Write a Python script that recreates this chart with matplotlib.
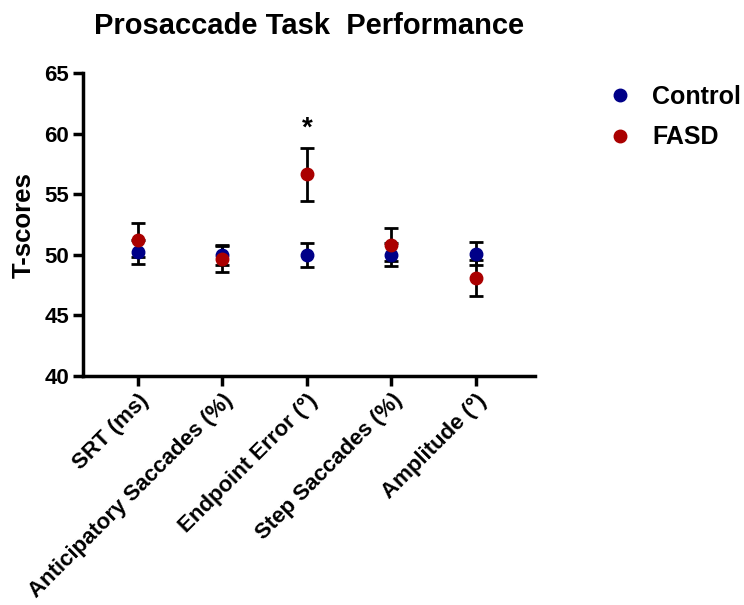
import numpy as np
import matplotlib.pyplot as plt

plt.rcParams['font.family'] = ['Liberation Sans', 'DejaVu Sans']

categories = ['SRT (ms)', 'Anticipatory Saccades (%)', 'Endpoint Error (°)',
              'Step Saccades (%)', 'Amplitude (°)']
control_mean = [50.25, 50.0, 50.0, 50.0, 50.1]
control_err = [1.0, 0.85, 1.0, 0.95, 0.95]
fasd_mean = [51.2, 49.65, 56.65, 50.85, 48.1]
fasd_err = [1.4, 1.05, 2.2, 1.35, 1.5]

blue = '#000088'
red = '#aa0000'

fig = plt.figure(figsize=(7.44, 6.05), dpi=100)
ax = fig.add_axes([0.1116, 0.3785, 0.6074, 0.5005])

x = np.arange(len(categories))
ax.errorbar(x, control_mean, yerr=control_err, fmt='none', ecolor='black',
            elinewidth=2, capsize=5, capthick=2, zorder=2)
ax.errorbar(x, fasd_mean, yerr=fasd_err, fmt='none', ecolor='black',
            elinewidth=2, capsize=5, capthick=2, zorder=2)
ax.plot(x, control_mean, 'o', color=blue, markersize=9, zorder=3, label='Control')
ax.plot(x, fasd_mean, 'o', color=red, markersize=9, zorder=4, label='FASD')

ax.text(2, 60.4, '*', ha='center', va='center', fontsize=20, fontweight='bold')

ax.set_ylim(40, 65)
ax.set_yticks([40, 45, 50, 55, 60, 65])
ax.set_xlim(-0.65, 4.7)
ax.set_xticks(x)
ax.set_xticklabels(categories, rotation=45, ha='right', rotation_mode='anchor')
for lab in ax.get_xticklabels() + ax.get_yticklabels():
    lab.set_fontweight('bold')
    lab.set_fontsize(16)

ax.spines['top'].set_visible(False)
ax.spines['right'].set_visible(False)
ax.spines['left'].set_linewidth(2.5)
ax.spines['bottom'].set_linewidth(2.5)
ax.tick_params(width=2.5, length=7, direction='out', pad=3)

ax.set_ylabel('T-scores', fontsize=18.5, fontweight='bold', labelpad=6)
ax.set_title('Prosaccade Task  Performance', fontsize=21, fontweight='bold', pad=28)

ax.legend(loc='upper left', bbox_to_anchor=(1.11, 1.035), frameon=False,
          prop={'size': 18, 'weight': 'bold'}, handletextpad=0.8, labelspacing=0.65,
          handlelength=1.0)

fig.savefig('out.png', dpi=100)
